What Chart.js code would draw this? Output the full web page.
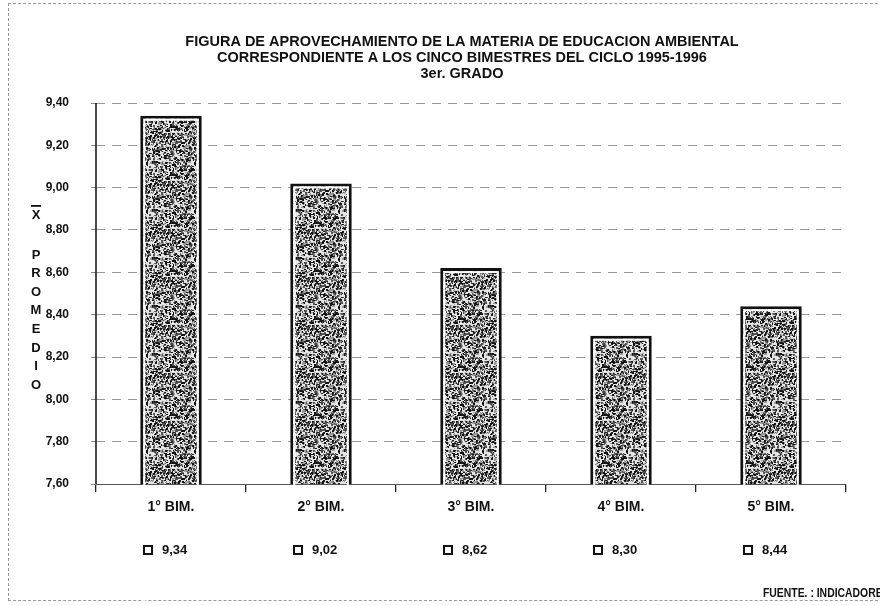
<!DOCTYPE html>
<html>
<head>
<meta charset="utf-8">
<script src="https://cdn.jsdelivr.net/npm/chart.js@4"></script>
<style>
body{margin:0;background:#fff;overflow:hidden}
#marco{position:absolute;left:8px;top:3px;width:900px;height:598px;border:1px dashed #999;box-sizing:border-box}
#caja{position:absolute;left:0;top:0;width:880px;height:606px}
</style>
</head>
<body>
<div id="marco"></div>
<div id="caja"><canvas id="grafico" width="880" height="606"></canvas></div>
<script>
// datos
const bimestres=['1° BIM.','2° BIM.','3° BIM.','4° BIM.','5° BIM.']
const promedios=[9.34,9.02,8.62,8.30,8.44]
const ticksY=[7.6,7.8,8.0,8.2,8.4,8.6,8.8,9.0,9.2,9.4]
const titulo=[
'FIGURA DE APROVECHAMIENTO DE LA MATERIA DE EDUCACION AMBIENTAL',
'CORRESPONDIENTE A LOS CINCO BIMESTRES DEL CICLO 1995-1996',
'3er. GRADO'
]
const tituloY=['X','P','R','O','M','E','D','I','O']
const fuente='FUENTE. : INDICADORES'

const FUENTE_TXT="'Liberation Sans',Arial,sans-serif"

let coma=v=>v.toFixed(2).replace('.',',')

// textura punteada (determinista) para las barras
function texturaBarra(){
let c=document.createElement('canvas')
c.width=48;c.height=48
let g=c.getContext('2d')
g.fillStyle='#e4e4e4'
g.fillRect(0,0,48,48)
let s=12345
let sig=()=>{s=(s*1103515245+12345)%2147483648;return s/2147483648}
for(let i=0;i<950;i++){
let x=Math.floor(sig()*48),y=Math.floor(sig()*48)
let t=sig()
g.fillStyle=t<0.45?'#161616':(t<0.75?'#555':'#999')
g.fillRect(x,y,sig()<0.5?2:1,sig()<0.5?2:1)
}
return g.createPattern(c,'repeat')
}

let ctx=document.getElementById('grafico').getContext('2d')

const extras={
id:'extras',
afterDatasetsDraw(chart){
let c=chart.ctx
let meta=chart.getDatasetMeta(0)
c.save()
c.strokeStyle='#fff'
c.lineWidth=2
meta.data.forEach(el=>{
let x0=el.x-el.width/2+4
c.strokeRect(x0,el.y+4,el.width-8,el.base-el.y-8)
})
c.restore()
},
afterDraw(chart){
let c=chart.ctx
let esc=chart.scales.x
let area=chart.chartArea
c.save()
c.fillStyle='#111'
c.strokeStyle='#111'
c.textBaseline='middle'

// linea del eje Y continua
c.lineWidth=1.5
c.beginPath()
c.moveTo(area.left,area.top)
c.lineTo(area.left,area.bottom)
c.stroke()

// titulo
c.textAlign='center'
c.font="bold 14.5px "+FUENTE_TXT
titulo.forEach((t,i)=>c.fillText(t,462,42+i*16))

// titulo eje Y en letras apiladas
c.font="bold 13px "+FUENTE_TXT
c.fillText(tituloY[0],36,215)
c.fillRect(31,205,10,1.8)
tituloY.slice(1).forEach((l,i)=>c.fillText(l,36,255+i*18.6))

// fila de valores
c.textAlign='left'
c.font="bold 13px "+FUENTE_TXT
promedios.forEach((v,i)=>{
let px=esc.getPixelForTick(i)
c.lineWidth=2
c.strokeRect(px-27,546,8,8)
c.fillText(coma(v),px-9,550)
})

// fuente
c.translate(763,593)
c.scale(0.8,1)
c.font="bold 13px "+FUENTE_TXT
c.fillText(fuente,0,0)
c.restore()
}
}

new Chart(ctx,{
type:'bar',
data:{
labels:bimestres,
datasets:[{
data:promedios,
backgroundColor:texturaBarra(),
borderColor:'#111',
borderWidth:3,
borderSkipped:false,
barPercentage:0.41,
categoryPercentage:1
}]
},
options:{
responsive:false,
animation:false,
layout:{padding:{left:10,right:34,top:103,bottom:0}},
plugins:{
legend:{display:false},
tooltip:{enabled:false},
title:{display:false}
},
scales:{
x:{
offset:true,
afterFit:s=>{s.height=122},
border:{display:true,color:'#555',width:1},
grid:{display:true,offset:true,drawOnChartArea:false,drawTicks:true,tickLength:8,color:'#222',lineWidth:1.3},
ticks:{
color:'#111',
padding:7,
maxRotation:0,
font:{family:FUENTE_TXT,size:14,weight:'bold'}
}
},
y:{
min:7.6,
max:9.4,
afterFit:s=>{s.width=86},
afterBuildTicks:s=>{s.ticks=ticksY.map(v=>({value:v}))},
border:{display:false,dash:[9,7]},
grid:{color:'#9a9a9a',lineWidth:1,tickLength:5,tickColor:'#888'},
ticks:{
color:'#111',
padding:22,
font:{family:FUENTE_TXT,size:12,weight:'bold'},
callback:v=>coma(v)
}
}
}
},
plugins:[extras]
})
</script>
</body>
</html>
